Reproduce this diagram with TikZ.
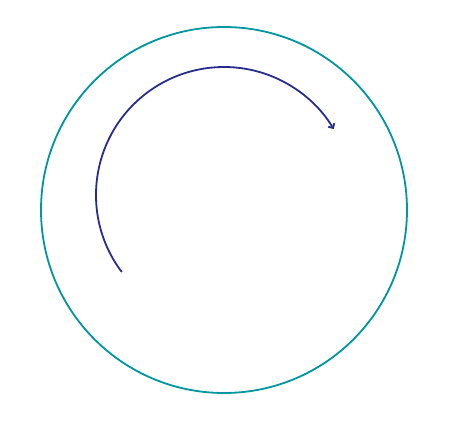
\documentclass[tikz,border=0pt]{standalone}
\usepackage{tikz}
\usetikzlibrary{arrows.meta}
\definecolor{ringteal}{RGB}{0,150,160}
\definecolor{arcblue}{RGB}{40,45,140}
\tikzset{
    ring/.style={draw=ringteal, line width=1.8pt},
    turn/.style={draw=arcblue, line width=1.8pt, -{Straight Barb[length=3.5pt, width=7pt]}}
}
\begin{document}
\begin{tikzpicture}[x=1pt, y=1pt]
    \useasboundingbox (0,0) rectangle (453,429);
    \coordinate (centre) at (224,219);
    \coordinate (turnstart) at ([shift={(224,234)}]217:128pt);
    \draw[ring] (centre) circle (183);
    \draw[turn] (turnstart) arc[start angle=217, end angle=31, radius=128];
\end{tikzpicture}
\end{document}
